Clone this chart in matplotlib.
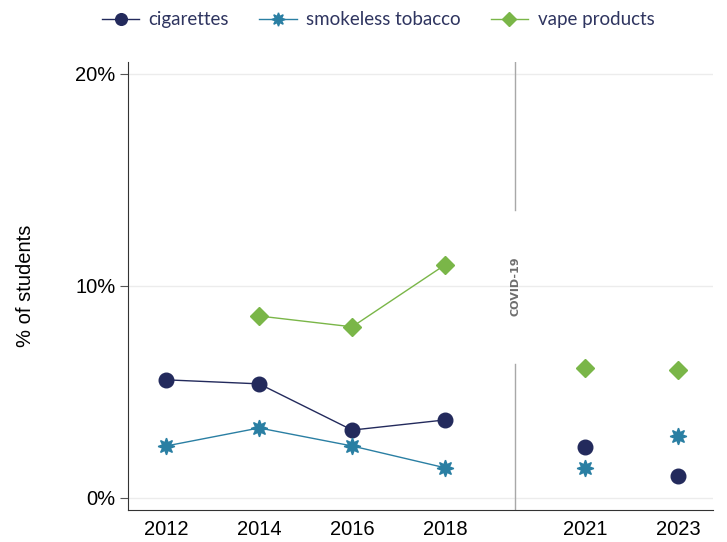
import matplotlib.pyplot as plt
from matplotlib.ticker import FuncFormatter

# Data (percent of students)
years = ["2012", "2014", "2016", "2018", "2021", "2023"]
pre_years = ["2012", "2014", "2016", "2018"]
post_years = ["2021", "2023"]

cig_pre = [5.57, 5.38, 3.2, 3.68]
cig_post = [2.4, 1.04]
smokeless_pre = [2.45, 3.3, 2.45, 1.42]
smokeless_post = [1.42, 2.92]
vape_pre = [None, 8.58, 8.07, 11.0]
vape_post = [6.13, 6.04]

# x positions: gap for the COVID break
pos = {"2012": 0, "2014": 1, "2016": 2, "2018": 3, "2021": 4.5, "2023": 5.5}
covid_x = 3.75

navy = "#232a5c"
teal = "#2a7fa3"
green = "#7ab648"
star8 = (8, 1, 0)

fig = plt.figure(figsize=(7.27, 5.42), dpi=100)
ax = fig.add_axes([0.176, 0.059, 0.805, 0.827])

for yv in [0, 10, 20]:
    ax.axhline(yv, color="#ececec", lw=1, zorder=0)

x_pre = [pos[y] for y in pre_years]
x_post = [pos[y] for y in post_years]

ax.plot(x_pre, cig_pre, color=navy, lw=1, marker="o", ms=10.5, label="cigarettes")
ax.plot(x_post, cig_post, color=navy, lw=0, marker="o", ms=10.5)

ax.plot(x_pre, smokeless_pre, color=teal, lw=1, marker=star8, ms=12, label="smokeless tobacco")
ax.plot(x_post, smokeless_post, color=teal, lw=0, marker=star8, ms=12)

vx = [x for x, v in zip(x_pre, vape_pre) if v is not None]
vv = [v for v in vape_pre if v is not None]
ax.plot(vx, vv, color=green, lw=1, marker="D", ms=9.5, label="vape products")
ax.plot(x_post, vape_post, color=green, lw=0, marker="D", ms=9.5)

# COVID separator
ax.plot([covid_x, covid_x], [-0.6, 6.3], color="#a8a8a8", lw=1, zorder=1)
ax.plot([covid_x, covid_x], [13.6, 20.6], color="#a8a8a8", lw=1, zorder=1)
ax.text(covid_x, 10, "COVID-19", rotation=90, ha="center", va="center",
        fontsize=8, fontweight="bold", color="#6e6e6e", family="DejaVu Sans")

ax.set_xlim(-0.41, 5.88)
ax.set_ylim(-0.57, 20.57)
ax.set_xticks([pos[y] for y in years])
ax.set_xticklabels(years, fontsize=14.5, family="Liberation Sans")
ax.set_yticks([0, 10, 20])
ax.yaxis.set_major_formatter(FuncFormatter(lambda v, p: f"{v:.0f}%"))
for lbl in ax.get_yticklabels():
    lbl.set_fontsize(14.5)
    lbl.set_family("Liberation Sans")
ax.tick_params(axis="x", length=0, pad=7)
ax.tick_params(axis="y", length=6, color="#555555", pad=3)
ax.set_ylabel("% of students", fontsize=14.5, family="Liberation Sans", labelpad=29)

for s in ["top", "right"]:
    ax.spines[s].set_visible(False)
ax.spines["left"].set_color("#333333")
ax.spines["bottom"].set_color("#333333")

leg = fig.legend(loc="upper center", bbox_to_anchor=(0.52, 1.01), ncol=3, frameon=False,
                 prop={"family": "Lato", "size": 13.5}, handlelength=2.0,
                 columnspacing=1.6, handletextpad=0.5, markerscale=0.8)
for t in leg.get_texts():
    t.set_color("#2f3560")

plt.savefig("out.png", dpi=100)
